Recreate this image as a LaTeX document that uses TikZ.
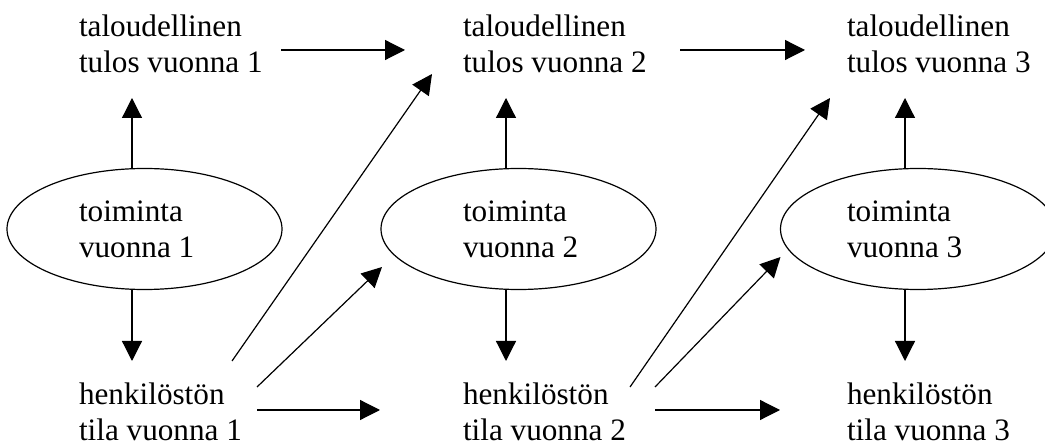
\documentclass[tikz,border=0pt]{standalone}
\usepackage{fontspec}
\setmainfont{Liberation Serif}
\usetikzlibrary{arrows.meta,calc,shapes.geometric}
\tikzset{
  lbl/.style={anchor=base west, inner sep=0pt, outer sep=0pt, align=left,
    font=\fontsize{31.2pt}{36pt}\selectfont},
  ell/.style={draw, ellipse, line width=1.2pt, inner sep=0pt, outer sep=0pt,
    minimum width=275pt, minimum height=121pt},
  arr/.style={line width=1.2pt, -{Triangle[length=20pt,width=20pt]}}
}
\begin{document}
\begin{tikzpicture}[x=1pt,y=-1pt]
\clip (0,0) rectangle (1045,443);
\fill[white] (0,0) rectangle (1045,443);
% ellipses
\node[ell] (e1) at (144.5,229) {};
\node[ell] (e2) at (518.5,229) {};
\node[ell] (e3) at (918,229) {};
% labels (anchored at the baseline of their last line)
\node[lbl] (t1) at (79,73) {taloudellinen\\tulos vuonna 1};
\node[lbl] (t2) at (463,73) {taloudellinen\\tulos vuonna 2};
\node[lbl] (t3) at (847,73) {taloudellinen\\tulos vuonna 3};
\node[lbl] (a1) at (79,258) {toiminta\\vuonna 1};
\node[lbl] (a2) at (463,258) {toiminta\\vuonna 2};
\node[lbl] (a3) at (847,258) {toiminta\\vuonna 3};
\node[lbl] (h1) at (79,441) {henkilöstön\\tila vuonna 1};
\node[lbl] (h2) at (463,441) {henkilöstön\\tila vuonna 2};
\node[lbl] (h3) at (847,441) {henkilöstön\\tila vuonna 3};
% column 1
\draw[arr] ([xshift=-12.5pt]e1.north) -- ($(t1.base west)+(53,25)$);
\draw[arr] ([xshift=-12.5pt]e1.south) -- ($(h1.base west)+(53,-80)$);
\draw[arr] ($(t1.base west)+(202,-23)$) -- ($(t2.base west)+(-58,-23)$);
\draw[arr] ($(h1.base west)+(153,-80)$) -- ($(t2.base west)+(-31,1)$);
\draw[arr] ($(h1.base west)+(178,-54)$) -- ($(e2.west)+(1,38)$);
\draw[arr] ($(h1.base west)+(178,-31)$) -- ($(h2.base west)+(-83,-31)$);
% column 2
\draw[arr] ([xshift=-12.5pt]e2.north) -- ($(t2.base west)+(43,25)$);
\draw[arr] ([xshift=-12.5pt]e2.south) -- ($(h2.base west)+(43,-80)$);
\draw[arr] ($(t2.base west)+(217,-23)$) -- ($(t3.base west)+(-42,-23)$);
\draw[arr] ($(h2.base west)+(167,-54)$) -- ($(t3.base west)+(-17,25)$);
\draw[arr] ($(h2.base west)+(192,-54)$) -- ($(e3.west)+(0,28)$);
\draw[arr] ($(h2.base west)+(192,-31)$) -- ($(h3.base west)+(-67,-31)$);
% column 3
\draw[arr] ([xshift=-13pt]e3.north) -- ($(t3.base west)+(58,25)$);
\draw[arr] ([xshift=-13pt]e3.south) -- ($(h3.base west)+(58,-80)$);
\end{tikzpicture}
\end{document}
